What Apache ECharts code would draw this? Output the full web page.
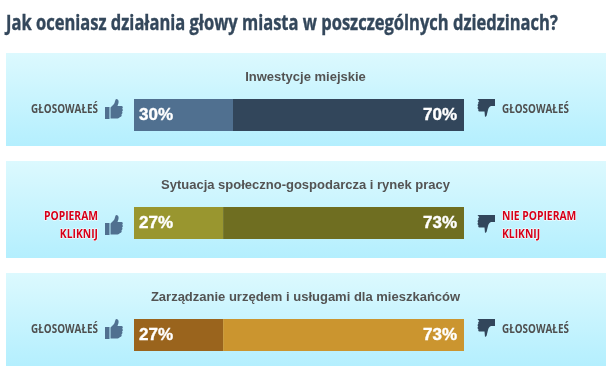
<!DOCTYPE html>
<html>
<head>
<meta charset="utf-8">
<style>
  html, body { margin: 0; padding: 0; background: #fff; }
  #chart { width: 612px; height: 379px; }
</style>
<script src="https://cdn.jsdelivr.net/npm/echarts@6/dist/echarts.min.js"></script>
</head>
<body>
<div id="chart"></div>
<script>
const heading = 'Jak oceniasz działania głowy miasta w poszczególnych dziedzinach?'
const categories = ['Inwestycje miejskie', 'Sytuacja społeczno-gospodarcza i rynek pracy', 'Zarządzanie urzędem i usługami dla mieszkańców']
const yesValues = [30, 27, 27]
const noValues = [70, 73, 73]
const yesColors = ['#507090', '#99962f', '#9a641d']
const noColors = ['#32465b', '#6f6e21', '#cb952f']
const yesLabels = [['GŁOSOWAŁEŚ'], ['POPIERAM', 'KLIKNIJ'], ['GŁOSOWAŁEŚ']]
const noLabels = [['GŁOSOWAŁEŚ'], ['NIE POPIERAM', 'KLIKNIJ'], ['GŁOSOWAŁEŚ']]

// layout of the three rows
const panels = [{ top: 53, h: 93 }, { top: 161, h: 97 }, { top: 273, h: 93 }]
const barTops = [99, 207, 319]
const titleTops = [71, 179, 291]
const barLeft = 134
const barWidth = 330
const barHeight = 32

const thumbUp = 'M0 8 H4.5 V20 H0 Z M5.5 8.5 L9 5 C10 3.5 10 1 11 0 C13 0 14 1.5 13.5 4 L12.5 7 H16.5 C18 7 18.2 9.2 17.2 9.8 C18.2 10.4 18 12.2 17 12.6 C17.8 13.4 17.5 15 16.5 15.3 C17 16.4 16.5 18 15 18 C14 19.5 13 19.5 11.5 19.5 H5.5 Z'
const thumbDown = 'M0.5 0 H18 V7 H14 C12 8 11.5 9 11 11 L9.5 17 L8 18 L7.5 12.5 H2.5 C1 12.5 1 10.8 1.5 10.3 C0.3 10 0.3 8 1.3 7.6 C0.3 7 0.5 5 1.5 4.8 C0.9 4 1.1 2.4 2.3 2.2 Z'
echarts.graphic.registerShape('thumbUp', echarts.graphic.extendPath(thumbUp, {}))
echarts.graphic.registerShape('thumbDown', echarts.graphic.extendPath(thumbDown, {}))

function sideText(x, top, lines, align, red) {
  const multi = lines.length > 1
  return lines.map((line, i) => ({
    type: 'text',
    x: x,
    y: top + (multi ? i * 18 : 0.5),
    scaleX: 0.86,
    style: {
      text: line,
      textAlign: align,
      textVerticalAlign: 'middle',
      font: 'bold ' + (multi ? 12 : 11.5) + 'px "Open Sans"',
      fill: red ? '#d4001a' : '#4f4f4f',
      stroke: red ? '#fff' : null,
      lineWidth: red ? 1 : 0
    }
  }))
}

const graphic = []
panels.forEach((p, i) => {
  graphic.push({
    type: 'rect',
    z: -1,
    shape: { x: 6, y: p.top, width: 600, height: p.h },
    style: {
      fill: new echarts.graphic.LinearGradient(0, 0, 0, 1, [
        { offset: 0, color: '#dcf9fe' },
        { offset: 1, color: '#b4effe' }
      ])
    }
  })
  const multi = yesLabels[i].length > 1
  const top = barTops[i]
  graphic.push(...sideText(98, top + 10, yesLabels[i], 'right', multi))
  graphic.push(...sideText(502, top + 10, noLabels[i], 'left', multi))
  graphic.push({
    type: 'thumbUp',
    x: 105,
    y: multi ? top + 8 : top,
    style: { fill: '#507090' }
  })
  graphic.push({
    type: 'thumbDown',
    x: 477,
    y: multi ? top + 8 : top,
    style: { fill: '#32465b' }
  })
})
graphic.push({
  type: 'text',
  x: 6,
  y: 24,
  scaleX: 0.768,
  style: {
    text: heading,
    textVerticalAlign: 'middle',
    font: 'bold 21.5px "Open Sans"',
    fill: '#33475b',
    stroke: '#33475b',
    lineWidth: 0.4
  }
})

const title = categories.map((c, i) => ({
  text: c,
  left: 305.5,
  top: titleTops[i],
  textAlign: 'center',
  padding: 0,
  textStyle: {
    fontFamily: 'Liberation Sans',
    fontSize: 13,
    fontWeight: 'bold',
    color: '#535353'
  }
}))

const grid = barTops.map(t => ({ left: barLeft, top: t, width: barWidth, height: barHeight }))
const xAxis = barTops.map((t, i) => ({ type: 'value', gridIndex: i, min: 0, max: 100, show: false }))
const yAxis = barTops.map((t, i) => ({ type: 'category', gridIndex: i, data: [categories[i]], show: false }))

const barLabel = (pos, dist) => ({
  show: true,
  position: pos,
  distance: dist,
  formatter: '{c}%',
  color: '#fff',
  fontFamily: 'Liberation Sans',
  fontSize: 17,
  fontWeight: 'bold',
  textBorderColor: '#fff',
  textBorderWidth: 0.4
})

const series = []
categories.forEach((c, i) => {
  series.push({
    type: 'bar',
    stack: 'row' + i,
    xAxisIndex: i,
    yAxisIndex: i,
    barWidth: barHeight,
    silent: true,
    data: [yesValues[i]],
    itemStyle: { color: yesColors[i] },
    label: barLabel('insideLeft', 5)
  }, {
    type: 'bar',
    stack: 'row' + i,
    xAxisIndex: i,
    yAxisIndex: i,
    barWidth: barHeight,
    silent: true,
    data: [noValues[i]],
    itemStyle: { color: noColors[i] },
    label: barLabel('insideRight', 7)
  })
})

const chart = echarts.init(document.getElementById('chart'))
chart.setOption({
  animation: false,
  title,
  graphic,
  grid,
  xAxis,
  yAxis,
  series
})
</script>
</body>
</html>
